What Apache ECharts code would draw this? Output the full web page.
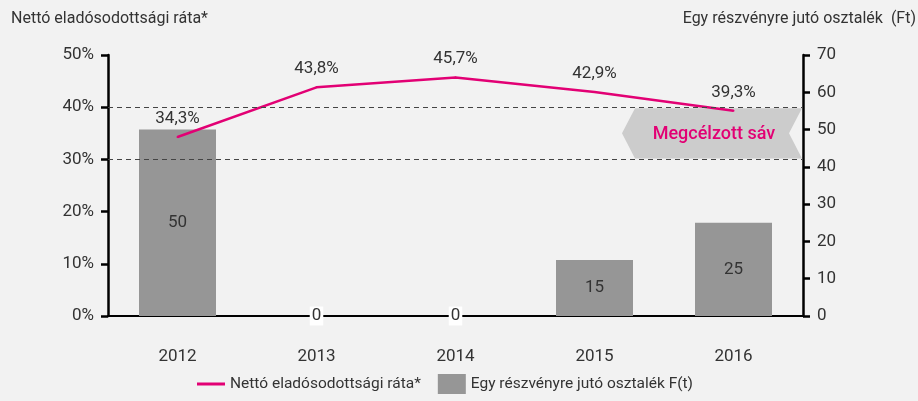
<!DOCTYPE html>
<html>
<head>
<meta charset="utf-8">
<script src="https://cdn.jsdelivr.net/npm/echarts@6/dist/echarts.min.js"></script>
<style>
html,body{margin:0;padding:0;background:#f2f2f2;}
#c{width:918px;height:401px;}
</style>
</head>
<body>
<div id="c"></div>
<script>
var categories = ['2012', '2013', '2014', '2015', '2016'];
var debtRatio = [34.3, 43.8, 45.7, 42.9, 39.3];
var dividend = [50, 0, 0, 15, 25];
var targetBand = [30, 40];
var bandLabel = 'Megcélzott sáv';
var leftAxisTitle = 'Nettó eladósodottsági ráta*';
var rightAxisTitle = 'Egy részvényre jutó osztalék  (Ft)';
var lineName = 'Nettó eladósodottsági ráta*';
var barName = 'Egy részvényre jutó osztalék F(t)';

var FONT = "Roboto, 'DejaVu Sans Condensed', sans-serif";
var TXT = '#333333';
var MAG = '#e20074';

var chart = echarts.init(document.getElementById('c'), null, {renderer: 'canvas'});

var barData = dividend.map(function (v) {
  var d = {value: v};
  if (v === 0) {
    d.label = {backgroundColor: '#ffffff', padding: [1, 2]};
  }
  return d;
});

var option = {
  backgroundColor: '#f2f2f2',
  animation: false,
  textStyle: {fontFamily: FONT},
  title: [
    {text: leftAxisTitle, left: 6, top: 6, textStyle: {fontFamily: FONT, fontSize: 16, fontWeight: 'normal', color: TXT}},
    {text: rightAxisTitle, right: -3, top: 6, textStyle: {fontFamily: FONT, fontSize: 16, fontWeight: 'normal', color: TXT}}
  ],
  grid: {left: 108, right: 115, top: 55, bottom: 85},
  legend: {
    bottom: 2,
    left: 192,
    itemGap: 17,
    textStyle: {fontFamily: FONT, fontSize: 15.5, color: TXT},
    data: [
      {name: lineName, icon: 'path://M0,0 L28,0 L28,3 L0,3 Z', itemStyle: {color: MAG}},
      {name: barName, icon: 'rect'}
    ],
    itemWidth: 28,
    itemHeight: 20
  },
  xAxis: {
    type: 'category',
    data: categories,
    boundaryGap: true,
    axisLine: {lineStyle: {color: '#000', width: 2}},
    axisTick: {show: false},
    axisLabel: {margin: 32, fontFamily: FONT, fontSize: 17, color: TXT}
  },
  yAxis: [
    {
      type: 'value', min: 0, max: 50, interval: 10, position: 'left',
      axisLine: {show: true, lineStyle: {color: '#000', width: 2.5}},
      axisTick: {show: true, length: 7, lineStyle: {color: '#000', width: 2.5}},
      splitLine: {show: false},
      axisLabel: {formatter: '{value}%', margin: 14, fontFamily: FONT, fontSize: 17, color: TXT}
    },
    {
      type: 'value', min: 0, max: 70, interval: 10, position: 'right',
      axisLine: {show: true, lineStyle: {color: '#000', width: 2.5}},
      axisTick: {show: true, length: 7, lineStyle: {color: '#000', width: 2.5}},
      splitLine: {show: false},
      axisLabel: {margin: 14, fontFamily: FONT, fontSize: 17, color: TXT}
    }
  ],
  series: [
    {
      name: barName,
      type: 'bar',
      yAxisIndex: 1,
      data: barData,
      barWidth: 77,
      itemStyle: {color: '#969696'},
      label: {show: true, position: 'inside', fontFamily: FONT, fontSize: 17, color: TXT},
      z: 2
    },
    {
      name: 'band',
      type: 'custom',
      yAxisIndex: 0,
      data: [[categories.length - 1, targetBand[0], targetBand[1]]],
      z: 3,
      silent: true,
      renderItem: function (params, api) {
        var idx = api.value(0);
        var pLow = api.coord([idx, api.value(1)]);
        var pHigh = api.coord([idx, api.value(2)]);
        var bw = api.size([1, 0])[0];
        var right = pLow[0] + bw / 2 - 1;
        var left = right - 180;
        var midY = (pLow[1] + pHigh[1]) / 2;
        var top = pHigh[1] + 1, bot = pLow[1] - 1;
        return {
          type: 'group',
          children: [
            {
              type: 'polygon',
              shape: {points: [[left, midY], [left + 13, top], [right, top], [right - 13, midY], [right, bot], [left + 13, bot]]},
              style: {fill: '#cccccc'}
            },
            {
              type: 'text',
              style: {
                text: bandLabel, x: (left + right) / 2 + 2, y: midY + 1,
                align: 'center', verticalAlign: 'middle',
                fill: MAG, font: '500 18px ' + FONT
              }
            }
          ]
        };
      }
    },
    {
      name: lineName,
      type: 'line',
      yAxisIndex: 0,
      data: debtRatio,
      symbol: 'circle',
      symbolSize: 2,
      showSymbol: true,
      lineStyle: {color: MAG, width: 2.5},
      itemStyle: {color: MAG},
      label: {
        show: true, position: 'top', distance: 9,
        fontFamily: FONT, fontSize: 17, color: TXT,
        formatter: function (p) { return p.value.toFixed(1).replace('.', ',') + '%'; }
      },
      labelLayout: {hideOverlap: false},
      z: 4,
      markLine: {
        silent: true,
        symbol: 'none',
        label: {show: false},
        lineStyle: {type: [5, 4], color: '#444444', width: 1},
        data: targetBand.map(function (v) { return {yAxis: v}; })
      }
    }
  ]
};
chart.setOption(option);
</script>
</body>
</html>
